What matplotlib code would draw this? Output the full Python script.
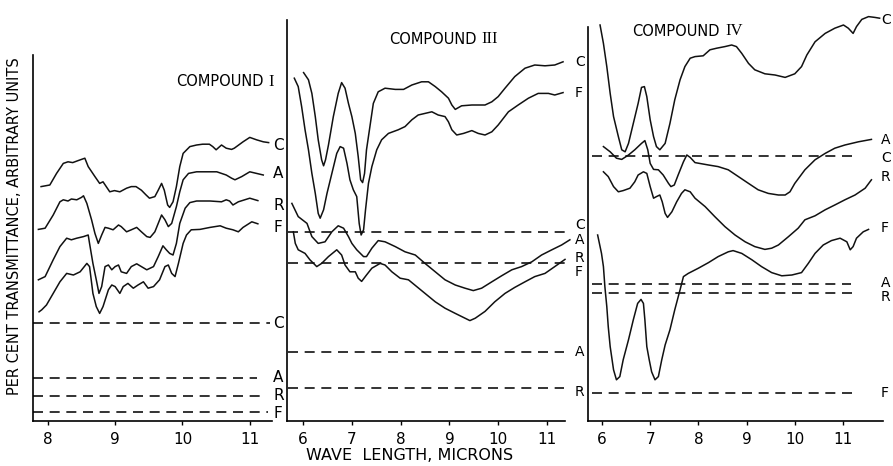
import numpy as np
import matplotlib
matplotlib.use("Agg")
import matplotlib.pyplot as plt
from matplotlib.transforms import offset_copy

# wavelength (microns), transmittance (arbitrary units)

# ---- compound I ----
cmp1_C = [(7.90, 58.6), (8.03, 59.0), (8.13, 61.9), (8.23, 64.4), (8.30, 64.8),
          (8.37, 64.6), (8.45, 65.1), (8.55, 65.7), (8.60, 63.6), (8.70, 61.1),
          (8.77, 59.4), (8.82, 59.8), (8.92, 57.3), (8.99, 57.6), (9.07, 57.3),
          (9.17, 58.2), (9.24, 58.6), (9.31, 58.6), (9.39, 57.7), (9.46, 56.5),
          (9.51, 55.7), (9.59, 56.1), (9.64, 57.7), (9.69, 59.4), (9.73, 57.7),
          (9.78, 54.0), (9.81, 53.4), (9.86, 54.8), (9.91, 58.6), (9.96, 63.6),
          (10.01, 66.9), (10.11, 68.6), (10.21, 69.0), (10.30, 69.2), (10.40, 69.2),
          (10.45, 68.6), (10.50, 67.8), (10.58, 69.0), (10.65, 68.2), (10.73, 67.9),
          (10.77, 68.2), (10.90, 69.8), (11.00, 70.9), (11.10, 70.3), (11.20, 69.8),
          (11.28, 69.6)]
cmp1_A = [(7.86, 47.9), (7.96, 48.2), (8.08, 51.5), (8.18, 54.8), (8.23, 55.3),
          (8.30, 55.0), (8.35, 55.5), (8.43, 55.3), (8.50, 55.9), (8.53, 56.3),
          (8.58, 54.4), (8.65, 50.3), (8.70, 46.9), (8.75, 44.4), (8.80, 46.5),
          (8.85, 48.4), (8.90, 48.2), (8.97, 47.8), (9.05, 49.0), (9.09, 48.6),
          (9.17, 47.3), (9.24, 47.8), (9.32, 48.4), (9.39, 47.3), (9.47, 46.1),
          (9.52, 45.9), (9.59, 47.3), (9.64, 49.4), (9.69, 51.5), (9.74, 50.3),
          (9.79, 48.6), (9.84, 49.4), (9.91, 53.6), (9.96, 57.3), (10.01, 60.3),
          (10.09, 61.9), (10.21, 62.3), (10.36, 62.3), (10.51, 62.3), (10.65, 61.5),
          (10.73, 60.7), (10.78, 60.3), (10.88, 61.1), (11.00, 62.3), (11.10, 61.9),
          (11.20, 61.5)]
cmp1_R = [(7.86, 35.3), (7.96, 36.1), (8.08, 40.3), (8.18, 43.6), (8.28, 45.7),
          (8.35, 45.3), (8.43, 45.7), (8.53, 46.1), (8.60, 46.5), (8.62, 44.4),
          (8.67, 39.4), (8.72, 35.3), (8.76, 31.9), (8.80, 33.6), (8.85, 38.6),
          (8.90, 39.0), (8.95, 37.8), (9.00, 38.6), (9.05, 39.0), (9.09, 37.3),
          (9.17, 36.9), (9.24, 38.6), (9.32, 39.3), (9.39, 38.6), (9.47, 37.8),
          (9.57, 38.6), (9.64, 41.1), (9.71, 43.8), (9.76, 42.8), (9.81, 41.9),
          (9.86, 41.5), (9.91, 44.4), (9.96, 49.4), (10.04, 53.2), (10.11, 54.6),
          (10.21, 55.0), (10.41, 55.0), (10.58, 54.8), (10.65, 55.3), (10.70, 55.0),
          (10.75, 54.0), (10.83, 54.8), (11.00, 55.7), (11.12, 55.1)]
cmp1_F = [(7.87, 27.3), (7.91, 27.8), (7.98, 29.0), (8.08, 31.9), (8.18, 34.8),
          (8.28, 36.9), (8.38, 36.5), (8.48, 37.3), (8.58, 39.4), (8.62, 38.6),
          (8.67, 31.9), (8.72, 28.6), (8.77, 26.9), (8.82, 28.6), (8.90, 32.8),
          (8.95, 34.0), (9.00, 33.6), (9.07, 31.9), (9.12, 33.6), (9.19, 34.4),
          (9.27, 33.2), (9.34, 34.0), (9.42, 34.8), (9.49, 33.2), (9.57, 33.6),
          (9.66, 35.3), (9.74, 38.6), (9.79, 39.0), (9.84, 36.9), (9.89, 36.1),
          (9.94, 39.4), (10.01, 44.4), (10.06, 46.5), (10.13, 47.8), (10.26, 47.9),
          (10.41, 48.4), (10.56, 48.8), (10.65, 48.2), (10.75, 47.8), (10.83, 47.3),
          (10.90, 48.4), (11.03, 49.8), (11.12, 49.3)]
cmp1_curve_labels = ["C", "A", "R", "F"]
cmp1_curve_ends = [68.8, 62.0, 54.0, 48.3]
cmp1_base_labels = ["C", "A", "R", "F"]
cmp1_base_levels = [24.6, 10.8, 6.3, 2.2]
cmp1_base_ends = [11.30, 11.11, 11.15, 11.27]
cmp1_base_text = [24.5, 10.8, 6.3, 2.0]

# ---- compound III ----
cmp3_C = [(6.01, 87.1), (6.11, 85.3), (6.18, 81.9), (6.25, 76.1), (6.31, 70.3),
          (6.38, 65.3), (6.42, 63.8), (6.46, 65.3), (6.52, 69.0), (6.62, 76.1),
          (6.72, 81.9), (6.79, 84.6), (6.86, 83.2), (6.93, 79.4), (7.00, 76.1),
          (7.07, 71.9), (7.13, 66.1), (7.18, 60.3), (7.22, 59.6), (7.26, 61.9),
          (7.30, 67.8), (7.37, 73.6), (7.44, 79.4), (7.54, 82.3), (7.68, 83.2),
          (7.89, 82.9), (8.06, 82.9), (8.23, 84.0), (8.43, 84.8), (8.57, 84.8),
          (8.71, 83.6), (8.84, 82.3), (8.98, 80.7), (9.05, 79.0), (9.12, 77.9),
          (9.25, 78.8), (9.46, 79.0), (9.73, 79.0), (9.87, 79.8), (10.00, 81.1),
          (10.14, 83.2), (10.34, 86.1), (10.55, 88.2), (10.75, 89.0), (10.96, 88.8),
          (11.16, 89.0), (11.33, 89.8)]
cmp3_F = [(5.82, 85.7), (5.90, 83.6), (5.97, 78.6), (6.04, 72.8), (6.11, 67.8),
          (6.18, 61.9), (6.25, 56.9), (6.31, 51.9), (6.35, 50.7), (6.42, 52.8),
          (6.49, 56.9), (6.59, 61.9), (6.69, 66.9), (6.76, 68.6), (6.83, 68.2),
          (6.90, 64.4), (6.96, 60.3), (7.03, 57.8), (7.10, 56.1), (7.15, 49.4),
          (7.19, 46.5), (7.24, 47.8), (7.28, 52.8), (7.34, 59.4), (7.41, 63.6),
          (7.51, 67.8), (7.61, 70.3), (7.75, 71.9), (7.95, 72.8), (8.09, 73.6),
          (8.23, 75.3), (8.36, 76.5), (8.50, 76.9), (8.64, 77.3), (8.77, 76.5),
          (8.91, 76.1), (8.98, 74.8), (9.05, 72.8), (9.15, 71.5), (9.29, 71.9),
          (9.46, 72.6), (9.59, 71.9), (9.73, 71.5), (9.87, 72.3), (10.00, 74.0),
          (10.21, 77.3), (10.41, 79.0), (10.62, 80.7), (10.82, 81.9), (11.03, 81.9),
          (11.16, 81.5), (11.33, 82.1)]
cmp3_A = [(5.77, 54.4), (5.90, 51.1), (6.08, 49.4), (6.18, 46.1), (6.31, 44.4),
          (6.45, 44.8), (6.59, 47.3), (6.72, 48.8), (6.83, 48.2), (6.93, 46.1),
          (7.00, 44.4), (7.10, 42.8), (7.24, 41.1), (7.30, 41.1), (7.41, 43.2),
          (7.54, 45.1), (7.68, 44.8), (7.89, 43.6), (8.09, 42.3), (8.30, 41.5),
          (8.50, 39.4), (8.71, 37.3), (8.91, 35.3), (9.12, 34.0), (9.32, 33.2),
          (9.49, 32.6), (9.66, 33.2), (9.87, 34.8), (10.07, 36.3), (10.28, 37.8),
          (10.48, 38.6), (10.69, 39.8), (10.89, 41.5), (11.10, 42.8), (11.30, 44.0),
          (11.47, 45.3)]
cmp3_R = [(5.80, 47.3), (5.84, 44.4), (5.90, 42.8), (6.04, 41.9), (6.14, 40.3),
          (6.28, 38.6), (6.38, 39.4), (6.52, 41.1), (6.69, 42.8), (6.79, 41.5),
          (6.86, 39.0), (6.96, 37.3), (7.07, 37.3), (7.13, 35.7), (7.20, 34.9),
          (7.30, 36.5), (7.41, 38.2), (7.58, 39.4), (7.68, 39.0), (7.82, 37.3),
          (7.99, 35.7), (8.16, 35.3), (8.33, 33.6), (8.50, 31.9), (8.71, 29.8),
          (8.91, 28.2), (9.12, 26.9), (9.32, 25.7), (9.42, 25.1), (9.53, 25.7),
          (9.73, 27.4), (9.93, 29.8), (10.14, 31.9), (10.34, 33.4), (10.55, 34.8),
          (10.75, 36.1), (10.96, 36.9), (11.16, 38.6), (11.37, 40.4)]
cmp3_labels = ["C", "F", "C", "A", "R", "F", "A", "R"]
cmp3_label_y = [89.8, 82.0, 49.0, 45.3, 40.8, 37.3, 17.3, 7.3]
cmp3_base_labels = ["C", "F", "A", "R"]
cmp3_base_levels = [47.3, 39.6, 17.3, 8.2]
cmp3_base_ends = [11.37, 11.37, 11.35, 11.35]

# ---- compound IV ----
cmp4_C = [(5.96, 99.0), (6.03, 94.4), (6.10, 88.6), (6.17, 81.9), (6.24, 76.1),
          (6.34, 71.1), (6.41, 67.8), (6.48, 67.3), (6.55, 69.4), (6.65, 74.4),
          (6.75, 79.4), (6.82, 83.4), (6.88, 83.6), (6.93, 81.1), (7.00, 75.3),
          (7.07, 71.1), (7.13, 68.6), (7.20, 67.8), (7.31, 69.4), (7.41, 74.4),
          (7.51, 80.3), (7.62, 85.3), (7.72, 88.6), (7.83, 90.7), (7.93, 91.1),
          (8.10, 91.3), (8.24, 92.8), (8.38, 93.2), (8.55, 93.6), (8.69, 94.0),
          (8.79, 93.6), (8.90, 91.9), (9.04, 89.4), (9.17, 87.8), (9.38, 86.8),
          (9.59, 86.5), (9.80, 85.9), (10.00, 86.8), (10.14, 88.6), (10.25, 91.5),
          (10.42, 94.8), (10.63, 96.9), (10.83, 98.2), (11.01, 99.0), (11.11, 98.2),
          (11.21, 96.9), (11.28, 98.6), (11.39, 100.4), (11.53, 101.1), (11.66, 100.9),
          (11.76, 100.7)]
cmp4_A = [(6.03, 68.6), (6.17, 67.3), (6.30, 65.7), (6.41, 65.4), (6.55, 66.5),
          (6.68, 67.8), (6.82, 69.4), (6.89, 70.1), (6.95, 67.8), (7.00, 64.4),
          (7.07, 62.9), (7.17, 62.8), (7.27, 61.5), (7.38, 59.4), (7.43, 58.6),
          (7.50, 59.0), (7.58, 61.5), (7.69, 64.8), (7.76, 66.5), (7.83, 65.9),
          (7.93, 64.6), (8.21, 64.0), (8.41, 63.6), (8.62, 62.8), (8.83, 61.1),
          (9.04, 59.4), (9.24, 57.8), (9.45, 56.9), (9.66, 56.5), (9.80, 56.5),
          (9.90, 57.3), (10.00, 59.4), (10.21, 62.8), (10.42, 65.3), (10.63, 66.9),
          (10.83, 68.2), (11.04, 69.0), (11.32, 69.8), (11.59, 70.4)]
cmp4_R = [(6.03, 62.3), (6.13, 61.1), (6.24, 58.6), (6.34, 57.3), (6.44, 57.6),
          (6.58, 58.2), (6.68, 59.8), (6.75, 61.5), (6.86, 62.3), (6.93, 61.9),
          (7.00, 58.6), (7.07, 55.7), (7.13, 56.1), (7.20, 56.5), (7.25, 54.8),
          (7.31, 51.9), (7.36, 50.9), (7.45, 52.3), (7.55, 54.8), (7.65, 56.9),
          (7.72, 57.8), (7.83, 57.3), (7.93, 55.7), (8.14, 53.6), (8.34, 51.1),
          (8.55, 48.6), (8.76, 46.5), (8.97, 44.8), (9.17, 43.6), (9.38, 42.9),
          (9.52, 43.2), (9.66, 44.0), (9.87, 46.1), (10.07, 48.2), (10.21, 50.3),
          (10.42, 51.3), (10.63, 52.8), (10.83, 54.0), (11.04, 55.3), (11.25, 56.5),
          (11.46, 58.2), (11.59, 60.3)]
cmp4_F = [(5.91, 46.5), (5.99, 41.9), (6.03, 38.6), (6.06, 33.6), (6.10, 28.6),
          (6.13, 23.6), (6.17, 18.6), (6.24, 12.8), (6.30, 10.3), (6.37, 11.1),
          (6.44, 15.3), (6.55, 20.3), (6.65, 25.3), (6.74, 29.4), (6.81, 30.4),
          (6.86, 29.4), (6.89, 25.3), (6.93, 18.6), (6.98, 15.3), (7.03, 12.3),
          (7.10, 10.3), (7.17, 11.1), (7.24, 15.3), (7.31, 19.0), (7.41, 22.8),
          (7.51, 27.8), (7.62, 32.8), (7.69, 36.1), (7.79, 36.9), (8.00, 38.2),
          (8.21, 39.6), (8.41, 41.1), (8.62, 42.3), (8.72, 42.6), (8.90, 41.9),
          (9.11, 40.3), (9.31, 38.6), (9.52, 37.1), (9.73, 36.3), (9.94, 36.5),
          (10.14, 37.1), (10.28, 39.4), (10.42, 41.9), (10.59, 44.0), (10.76, 45.1),
          (10.94, 45.7), (11.08, 44.8), (11.15, 42.8), (11.21, 43.6), (11.28, 45.7),
          (11.42, 47.3), (11.53, 47.9)]
cmp4_labels = ["C", "A", "C", "R", "F", "A", "R", "F"]
cmp4_label_y = [100.3, 70.3, 65.8, 61.0, 48.3, 34.5, 31.0, 7.0]
cmp4_base_labels = ["C", "A", "R", "F"]
cmp4_base_levels = [66.3, 34.3, 31.9, 6.9]
cmp4_base_ends = [11.29, 11.17, 11.19, 11.19]

W, H = 893, 466


def make_axes(fig, x0, x1, xlim, spine_top, ticks):
    ax = fig.add_axes([x0 / W, 45 / H, (x1 - x0) / W, 421 / H])
    ax.set_xlim(*xlim)
    ax.set_ylim(0, 105.25)
    ax.patch.set_alpha(0)
    for side in ("top", "right"):
        ax.spines[side].set_visible(False)
    ax.spines["left"].set_bounds(0, spine_top)
    ax.spines["left"].set_linewidth(1.2)
    ax.spines["bottom"].set_linewidth(1.2)
    ax.set_yticks([])
    ax.set_xticks(ticks)
    ax.tick_params(axis="x", direction="out", length=3, width=1,
                   labelsize=11, pad=5)
    return ax


def curve(ax, pts):
    arr = np.array(pts)
    ax.plot(arr[:, 0], arr[:, 1], color="#111111", lw=1.1, clip_on=False)


def baselines(ax, levels, x_start, ends):
    for lvl, xe in zip(levels, ends):
        ax.plot([x_start, xe], [lvl, lvl], color="#111111", lw=1.2,
                ls=(0, (6, 4)), clip_on=False)


def labels(ax, x, names, ys, size=11):
    for s, y in zip(names, ys):
        ax.text(x, y, s, ha="left", va="center", fontsize=size, clip_on=False)


def title(fig, ax, x, y, numeral):
    ax.text(x, y, "COMPOUND", ha="right", va="center", fontsize=10.5)
    tr = offset_copy(ax.transData, fig=fig, x=5, y=0, units="dots")
    ax.text(x, y, numeral, ha="left", va="center", fontsize=12,
            family="Liberation Serif", transform=tr)


def main():
    fig = plt.figure(figsize=(W / 100, H / 100), dpi=100)

    ax1 = make_axes(fig, 33, 272, (7.78, 11.33), 91.5, [8, 9, 10, 11])
    for pts in (cmp1_C, cmp1_A, cmp1_R, cmp1_F):
        curve(ax1, pts)
    baselines(ax1, cmp1_base_levels, 7.78, cmp1_base_ends)
    labels(ax1, 11.35, cmp1_curve_labels, cmp1_curve_ends)
    labels(ax1, 11.35, cmp1_base_labels, cmp1_base_text)
    title(fig, ax1, 11.20, 84.75, "I")

    ax2 = make_axes(fig, 287, 565, (5.67, 11.37), 100.25, [6, 7, 8, 9, 10, 11])
    for pts in (cmp3_C, cmp3_F, cmp3_A, cmp3_R):
        curve(ax2, pts)
    baselines(ax2, cmp3_base_levels, 5.69, cmp3_base_ends)
    labels(ax2, 11.57, cmp3_labels, cmp3_label_y, size=10)
    title(fig, ax2, 9.56, 95.5, "III")

    ax3 = make_axes(fig, 588, 883, (5.71, 11.83), 98.5, [6, 7, 8, 9, 10, 11])
    for pts in (cmp4_C, cmp4_A, cmp4_R, cmp4_F):
        curve(ax3, pts)
    baselines(ax3, cmp4_base_levels, 5.79, cmp4_base_ends)
    labels(ax3, 11.79, cmp4_labels, cmp4_label_y, size=10)
    title(fig, ax3, 8.45, 97.5, "IV")

    fig.text(15 / W, 1 - 226 / H, "PER CENT TRANSMITTANCE, ARBITRARY UNITS",
             rotation=90, ha="center", va="center", fontsize=10.5)
    fig.text(410 / W, 1 - 456 / H, "WAVE  LENGTH, MICRONS",
             ha="center", va="center", fontsize=11.5)

    fig.savefig("out.png", dpi=100)


if __name__ == "__main__":
    main()
